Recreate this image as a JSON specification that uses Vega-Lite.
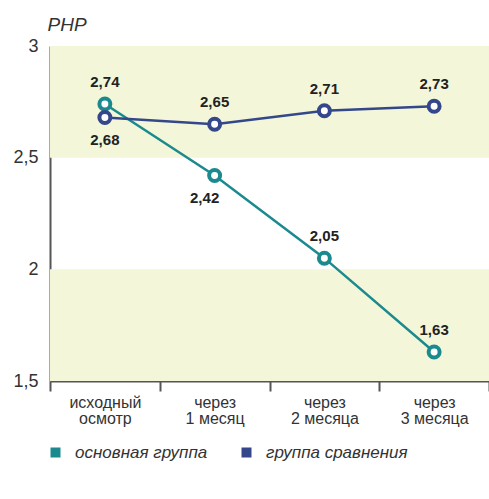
{
  "$schema": "https://vega.github.io/schema/vega-lite/v6.json",
  "width": 439,
  "height": 335,
  "autosize": {"type": "none"},
  "padding": {"left": 50, "top": 46, "right": 0, "bottom": 118},
  "background": "white",
  "config": {
    "view": {"stroke": null},
    "font": "Liberation Sans",
    "locale": {"number": {"decimal": ",", "thousands": " ", "grouping": [3], "currency": ["", ""]}}
  },
  "datasets": {
    "series": [
      {"time": "исходный|осмотр", "group": "основная группа", "value": 2.74},
      {"time": "через|1 месяц", "group": "основная группа", "value": 2.42},
      {"time": "через|2 месяца", "group": "основная группа", "value": 2.05},
      {"time": "через|3 месяца", "group": "основная группа", "value": 1.63},
      {"time": "исходный|осмотр", "group": "группа сравнения", "value": 2.68},
      {"time": "через|1 месяц", "group": "группа сравнения", "value": 2.65},
      {"time": "через|2 месяца", "group": "группа сравнения", "value": 2.71},
      {"time": "через|3 месяца", "group": "группа сравнения", "value": 2.73}
    ],
    "bands": [
      {"lo": 2.5, "hi": 3},
      {"lo": 1.5, "hi": 2}
    ]
  },
  "layer": [
    {
      "data": {"name": "bands"},
      "mark": {"type": "rect", "color": "#f3f6d9"},
      "encoding": {
        "y": {"field": "lo", "type": "quantitative", "scale": {"domain": [1.5, 3], "nice": false, "zero": false}},
        "y2": {"field": "hi"}
      }
    },
    {
      "data": {"name": "series"},
      "mark": {"type": "line", "strokeWidth": 2.5},
      "encoding": {
        "x": {
          "field": "time", "type": "nominal", "sort": null,
          "scale": {"paddingInner": 0, "paddingOuter": 0},
          "axis": {
            "title": null, "labelAngle": 0, "tickBand": "extent",
            "domainColor": "#555", "domainWidth": 2,
            "tickColor": "#555", "tickWidth": 2, "tickSize": 10,
            "labelFontSize": 16, "labelColor": "#333",
            "labelPadding": 3, "labelLineHeight": 16, "labelBaseline": "top",
            "labelExpr": "isString(datum.value) ? split(datum.value, '|') : ''"
          }
        },
        "y": {
          "field": "value", "type": "quantitative",
          "scale": {"domain": [1.5, 3], "nice": false, "zero": false},
          "axis": {
            "values": [1.5, 2, 2.5, 3], "format": "~g", "grid": false, "ticks": false,
            "domainColor": "#555", "domainWidth": 2,
            "labelFontSize": 18, "labelColor": "#333", "labelPadding": 12,
            "title": "PHP", "titleAngle": 0, "titleAlign": "left", "titleBaseline": "alphabetic",
            "titleX": -3, "titleY": -16, "titleFontSize": 19, "titleFontStyle": "italic",
            "titleFontWeight": "normal", "titleColor": "#333"
          }
        },
        "color": {
          "field": "group", "type": "nominal",
          "scale": {"domain": ["основная группа", "группа сравнения"], "range": ["#1b8a8e", "#34478a"]},
          "legend": {
            "title": null, "orient": "none", "direction": "horizontal",
            "legendX": -3, "legendY": 398, "padding": 0,
            "symbolType": "square", "symbolSize": 1, "symbolStrokeWidth": 9,
            "labelFontSize": 17, "labelFontStyle": "italic", "labelColor": "#333",
            "labelOffset": 11, "columnPadding": 20, "labelLimit": 300
          }
        }
      }
    },
    {
      "data": {"name": "series"},
      "mark": {"type": "point", "filled": false, "fill": "white", "fillOpacity": 1, "strokeWidth": 4, "size": 120, "opacity": 1},
      "encoding": {
        "x": {"field": "time", "type": "nominal", "sort": null},
        "y": {"field": "value", "type": "quantitative"},
        "color": {"field": "group", "type": "nominal", "legend": null}
      }
    },
    {
      "data": {"name": "series"},
      "transform": [{"filter": "datum.value != 2.68 && datum.value != 2.42"}],
      "mark": {"type": "text", "font": "Liberation Sans", "fontWeight": "bold", "fontSize": 15, "color": "#222", "dy": -22, "baseline": "middle"},
      "encoding": {
        "x": {"field": "time", "type": "nominal", "sort": null},
        "y": {"field": "value", "type": "quantitative"},
        "text": {"field": "value", "type": "quantitative", "format": ".2f"}
      }
    },
    {
      "data": {"name": "series"},
      "transform": [{"filter": "datum.value == 2.68"}],
      "mark": {"type": "text", "font": "Liberation Sans", "fontWeight": "bold", "fontSize": 15, "color": "#222", "dy": 23, "baseline": "middle"},
      "encoding": {
        "x": {"field": "time", "type": "nominal", "sort": null},
        "y": {"field": "value", "type": "quantitative"},
        "text": {"field": "value", "type": "quantitative", "format": ".2f"}
      }
    },
    {
      "data": {"name": "series"},
      "transform": [{"filter": "datum.value == 2.42"}],
      "mark": {"type": "text", "font": "Liberation Sans", "fontWeight": "bold", "fontSize": 15, "color": "#222", "dy": 22, "dx": -10, "baseline": "middle"},
      "encoding": {
        "x": {"field": "time", "type": "nominal", "sort": null},
        "y": {"field": "value", "type": "quantitative"},
        "text": {"field": "value", "type": "quantitative", "format": ".2f"}
      }
    }
  ]
}
